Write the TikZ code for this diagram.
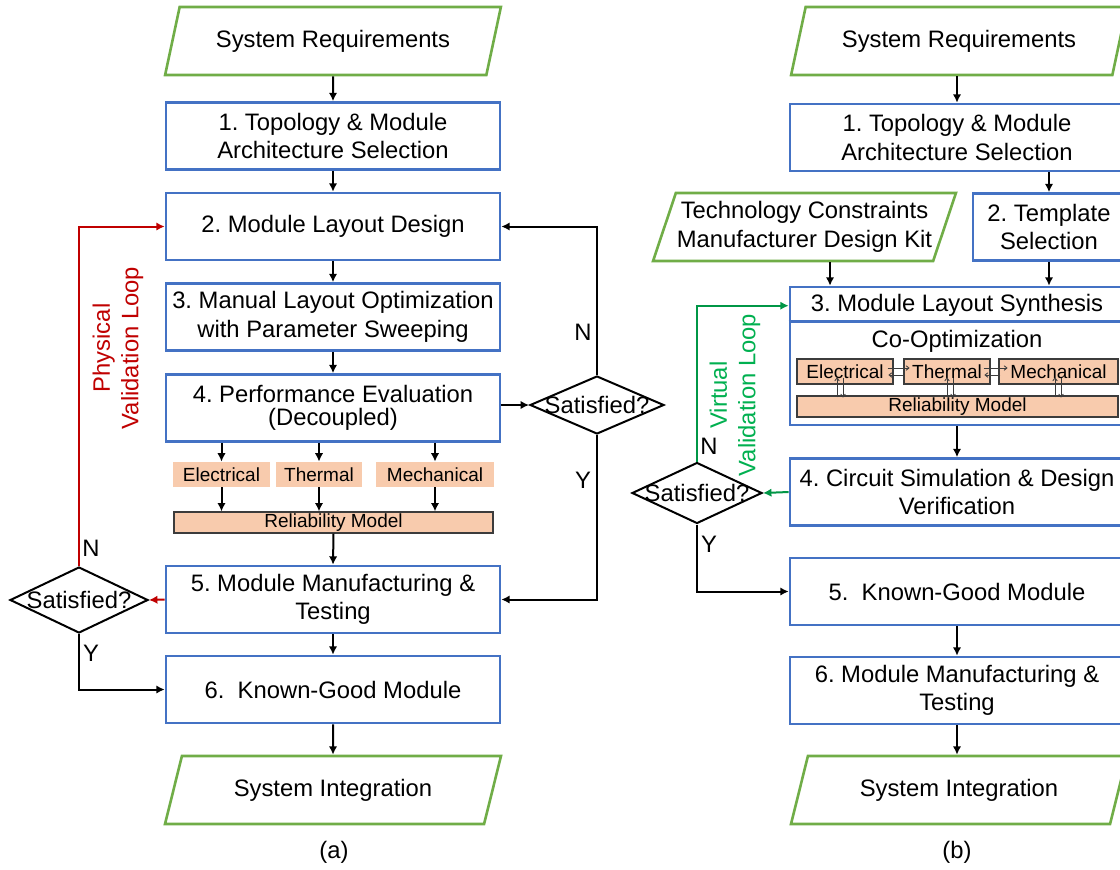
\documentclass[tikz,border=0pt]{standalone}
\usepackage{fontspec}
\setmainfont{Liberation Sans}
\usetikzlibrary{shapes.geometric,arrows.meta,calc}
\frenchspacing

\definecolor{boxblue}{RGB}{68,114,196}
\definecolor{iogreen}{RGB}{112,173,71}
\definecolor{loopred}{RGB}{192,0,0}
\definecolor{loopgreen}{RGB}{0,150,70}
\definecolor{loopgreentext}{RGB}{0,176,80}
\definecolor{modelfill}{RGB}{248,203,173}
\definecolor{modeledge}{RGB}{60,60,60}

\begin{document}
\begin{tikzpicture}[x=0.5pt,y=-0.5pt,
font=\fontsize{11.9}{14.3}\selectfont,
box/.style={draw=boxblue,line width=1.3pt,minimum width=167pt,minimum height=33.5pt,align=center,inner sep=0pt},
iobox/.style={draw=iogreen,line width=1.3pt,trapezium,trapezium left angle=63.4,trapezium right angle=116.6,trapezium stretches=true,minimum width=168pt,minimum height=34pt,align=center,inner sep=0pt},
decide/.style={draw,diamond,line width=1pt,minimum width=67pt,minimum height=29pt,inner sep=0pt},
model/.style={fill=modelfill,minimum height=12.5pt,inner sep=0pt,font=\fontsize{9.5}{11}\selectfont},
coupled/.style={model,draw=modeledge,line width=0.6pt},
arr/.style={line width=1pt,-{Latex[length=4.2pt,width=4.2pt]}},
twin/.style={line width=0.45pt,draw=modeledge,-{To[length=1.8pt,width=2.6pt]}},
yn/.style={inner sep=0pt}
]
\useasboundingbox[fill=white] (0,0) rectangle (1120,869);
\clip (0,0) rectangle (1120,869);

\node[iobox] (reqA) at (333,41) {System Requirements};
\node[box] (topoA) at (333,136) {1. Topology \& Module\\Architecture Selection};
\node[box] (layA) at (333,226.5) {2. Module Layout Design};
\node[box] (optA) at (333,317) {3. Manual Layout Optimization\\with Parameter Sweeping};
\node[box] (evalA) at (333,408) {4. Performance Evaluation\\[-3pt](Decoupled)};
\node[model,minimum width=48.5pt] (elA) at (221.5,474.5) {Electrical};
\node[model,minimum width=43pt] (thA) at (319,474.5) {Thermal};
\node[model,minimum width=59pt] (meA) at (435,474.5) {Mechanical};
\node[coupled,minimum width=159.5pt,minimum height=10.5pt] (relA) at (333.5,522.5) {Reliability Model};
\node[box] (mfgA) at (333,599.5) {5. Module Manufacturing \&\\Testing};
\node[box] (kgmA) at (333,689.5) {6.~~Known-Good Module};
\node[iobox] (intA) at (333,790) {System Integration};
\node[decide,label={[inner sep=0pt]center:Satisfied?}] (satR) at (597,405) {};
\node[decide,minimum width=69pt,minimum height=33pt,label={[inner sep=0pt]center:Satisfied?}] (satL) at (79,600) {};

\draw[arr] (reqA) -- (topoA);
\draw[arr] (topoA) -- (layA);
\draw[arr] (layA) -- (optA);
\draw[arr] (optA) -- (evalA);
\draw[arr] (evalA.south -| elA.north) -- (elA.north);
\draw[arr] (evalA.south -| thA.north) -- (thA.north);
\draw[arr] (evalA.south -| meA.north) -- (meA.north);
\draw[arr] (elA.south) -- (elA.south |- relA.north);
\draw[arr] (thA.south) -- (thA.south |- relA.north);
\draw[arr] (meA.south) -- (meA.south |- relA.north);
\draw[arr] (relA.south) -- (mfgA.north);
\draw[arr] (mfgA) -- (kgmA);
\draw[arr] (kgmA) -- (intA);
\draw[arr] (evalA.east |- satR.west) -- (satR.west);
\draw[arr] (satR.north) -- (satR.north |- layA.east) -- (layA.east);
\draw[arr] (satR.south) -- (satR.south |- mfgA.east) -- (mfgA.east);
\draw[arr,draw=loopred,color=loopred] (mfgA.west) -- (satL.east);
\draw[arr,draw=loopred,color=loopred] (satL.north) -- (satL.north |- layA.west) -- (layA.west);
\draw[arr] (satL.south) -- (satL.south |- kgmA.west) -- (kgmA.west);

\node[yn] (nR) at (583,332) {N};
\node[yn] (yR) at (583,480) {Y};
\node[yn] (nL) at (91,548) {N};
\node[yn] (yL) at (91,653) {Y};
\node[rotate=90,text=loopred,align=center] (loopA) at (118,348) {Physical\\Validation Loop};
\node (capA) at (334,852) {(a)};

\node[iobox] (reqB) at (959,41) {System Requirements};
\node[box] (topoB) at (957,137.5) {1. Topology \& Module\\Architecture Selection};
\node[box,minimum width=76pt] (tmplB) at (1049,227) {2. Template\\Selection};
\node[iobox,minimum width=151.5pt,trapezium left angle=66,trapezium right angle=114] (techB) at (804.5,227) {Technology Constraints\\Manufacturer Design Kit};
\node[box,minimum height=69pt] (synB) at (957,356) {};
\draw[draw=boxblue,line width=1.3pt] ([yshift=-18pt]synB.north west) -- ([yshift=-18pt]synB.north east);
\node (synT) at (957,305) {3. Module Layout Synthesis};
\node (coB) at (957,341) {Co-Optimization};
\node[coupled,minimum width=48pt] (elB) at (845,371.5) {Electrical};
\node[coupled,minimum width=43pt] (thB) at (947,371.5) {Thermal};
\node[coupled,minimum width=59.5pt] (meB) at (1058.5,371.5) {Mechanical};
\node[coupled,minimum width=160.5pt,minimum height=10.5pt] (relB) at (957.5,406.5) {Reliability Model};
\node[box] (simB) at (957,492) {4. Circuit Simulation \& Design\\Verification};
\node[box] (kgmB) at (957,591.5) {5.~~Known-Good Module};
\node[box] (mfgB) at (957,690.5) {6. Module Manufacturing \&\\Testing};
\node[iobox] (intB) at (959,790) {System Integration};
\node[decide,minimum width=65pt,minimum height=30.5pt,label={[inner sep=0pt]center:Satisfied?}] (satV) at (697,493) {};

\draw[twin] ($(elB.east)+(-6,-3.5)$) -- ($(thB.west)+(6,-3.5)$);
\draw[twin] ($(thB.west)+(1,3.5)$) -- ($(elB.east)+(-5,3.5)$);
\draw[twin] ($(thB.east)+(-7,-3.5)$) -- ($(meB.west)+(9,-3.5)$);
\draw[twin] ($(meB.west)+(2,3.5)$) -- ($(thB.east)+(-6,3.5)$);
\draw[twin] ($(elB.south |- relB.north)+(-8,2)$) -- ($(elB.south)+(-8,-7)$);
\draw[twin] ($(elB.south)+(-2,-7)$) -- ($(elB.south |- relB.north)+(-2,2)$);
\draw[twin] ($(thB.south |- relB.north)+(0,2)$) -- ($(thB.south)+(0,-7)$);
\draw[twin] ($(thB.south)+(6,-7)$) -- ($(thB.south |- relB.north)+(6,2)$);
\draw[twin] ($(meB.south |- relB.north)+(-3.5,2)$) -- ($(meB.south)+(-3.5,-7)$);
\draw[twin] ($(meB.south)+(2.5,-7)$) -- ($(meB.south |- relB.north)+(2.5,2)$);

\draw[arr] (topoB.north |- reqB.south) -- (topoB.north);
\draw[arr] (topoB.south -| tmplB.north) -- (tmplB.north);
\draw[arr] ([xshift=12.75pt]techB.south) -- ([xshift=12.75pt]techB.south |- synB.north);
\draw[arr] (tmplB.south) -- (tmplB.south |- synB.north);
\draw[arr] (synB) -- (simB);
\draw[arr] (kgmB) -- (mfgB);
\draw[arr] (mfgB.south) -- (mfgB.south |- intB.north);
\draw[arr,draw=loopgreen,color=loopgreen] (simB.west) -- (satV.east);
\draw[arr,draw=loopgreen,color=loopgreen] (satV.north) -- ($(satV.north |- synB.north)+(0,20)$) -- ($(synB.north west)+(0,20)$);
\draw[arr] (satV.south) -- (satV.south |- kgmB.west) -- (kgmB.west);

\node[yn] (nV) at (709,446) {N};
\node[yn] (yV) at (709,544) {Y};
\node[rotate=90,text=loopgreentext,align=center] (loopB) at (735,395) {Virtual\\Validation Loop};
\node (capB) at (957,852) {(b)};

\end{tikzpicture}
\end{document}
